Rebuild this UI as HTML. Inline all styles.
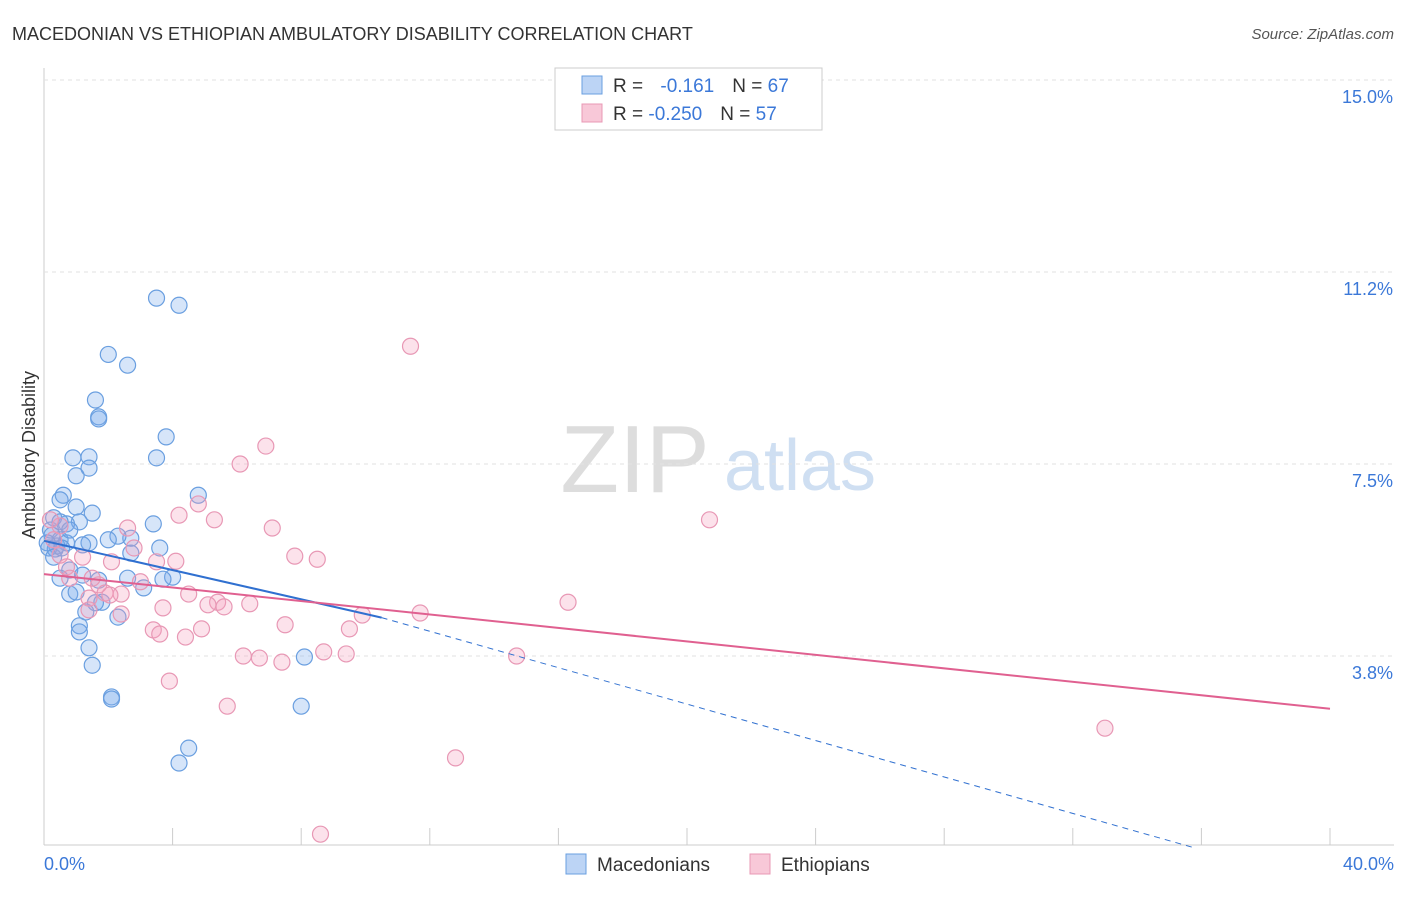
<!DOCTYPE html>
<html><head><meta charset="utf-8"><style>
body{margin:0;background:#fff;font-family:"Liberation Sans",sans-serif;}
svg text{font-family:"Liberation Sans",sans-serif;}
</style></head><body>
<svg id="c" width="1406" height="892" xmlns="http://www.w3.org/2000/svg">
<text x="12" y="40" font-size="18" fill="#333">MACEDONIAN VS ETHIOPIAN AMBULATORY DISABILITY CORRELATION CHART</text>
<text x="1394" y="39" font-size="15" fill="#555" font-style="italic" text-anchor="end">Source: ZipAtlas.com</text>
<text x="635" y="492" font-size="96" fill="#ddd" font-family="Liberation Serif" text-anchor="middle">ZIP</text>
<text x="800" y="490" font-size="72" fill="#cfdff2" text-anchor="middle">atlas</text>
<g id="grid"></g><g id="pts"></g><g id="lines"></g>
<text transform="translate(35,455) rotate(-90)" font-size="18" fill="#333" text-anchor="middle">Ambulatory Disability</text>
<text x="44" y="870" font-size="18" fill="#3b78d8">0.0%</text>
<text x="1394" y="870" font-size="18" fill="#3b78d8" text-anchor="end">40.0%</text>
<g>
<rect x="555" y="68" width="267" height="62" fill="#fff" stroke="#ccc"/>
<rect x="582" y="76" width="20" height="18" fill="#bcd4f5" stroke="#6a9fe0"/>
<rect x="582" y="104" width="20" height="18" fill="#f8c8d8" stroke="#e898b5"/>
<text x="613" y="92" font-size="19" fill="#333">R = <tspan fill="#3b78d8" dx="12">-0.161</tspan><tspan fill="#333" dx="18">N = </tspan><tspan fill="#3b78d8">67</tspan></text>
<text x="613" y="120" font-size="19" fill="#333">R = <tspan fill="#3b78d8">-0.250</tspan><tspan fill="#333" dx="18">N = </tspan><tspan fill="#3b78d8">57</tspan></text>
</g>
<g>
<rect x="566" y="854" width="20" height="20" fill="#bcd4f5" stroke="#6a9fe0"/>
<text x="597" y="871" font-size="19" fill="#333">Macedonians</text>
<rect x="750" y="854" width="20" height="20" fill="#f8c8d8" stroke="#e898b5"/>
<text x="781" y="871" font-size="19" fill="#333">Ethiopians</text>
</g>
</svg>
<script>
const yTicks=[3.75,7.5,11.25,15];
const yTickLabels=["3.8%","7.5%","11.2%","15.0%"];
const xTicks=[0,4,8,12,16,20,24,28,32,36,40];
const macX=[3.5,4.2,2.0,2.6,1.6,1.7,1.7,3.8,0.9,1.4,3.5,1.4,1.0,0.6,0.5,4.8,1.0,1.5,0.3,1.1,3.4,0.7,0.2,0.25,0.5,2.7,2.3,2.0,1.4,1.2,0.7,0.4,0.15,0.35,3.6,2.7,0.3,0.8,1.2,0.5,1.7,2.6,4.0,3.7,3.1,0.8,1.0,1.8,1.6,2.3,1.3,1.1,1.1,1.4,1.5,8.1,2.1,2.1,8.0,4.5,4.2,0.5,0.8,0.1,0.55];
const macY=[10.74,10.6,9.64,9.43,8.75,8.42,8.38,8.03,7.62,7.64,7.62,7.42,7.27,6.89,6.8,6.89,6.66,6.54,6.45,6.37,6.33,6.33,6.21,6.11,6.02,6.05,6.09,6.02,5.96,5.92,5.96,5.9,5.86,5.84,5.86,5.76,5.68,5.43,5.33,5.27,5.23,5.27,5.29,5.25,5.08,4.96,5.0,4.8,4.79,4.51,4.61,4.34,4.22,3.91,3.57,3.73,2.95,2.91,2.77,1.95,1.66,6.37,6.21,5.96,5.86];
const ethX=[11.4,6.9,6.1,4.8,4.2,5.3,20.7,7.1,2.6,0.5,0.3,2.8,7.8,8.5,4.1,3.5,2.1,1.2,0.7,0.8,1.7,3.0,4.5,2.4,1.9,1.4,5.4,5.1,5.6,6.4,3.7,16.3,11.7,9.9,2.4,1.4,3.4,4.9,7.5,9.5,3.6,4.4,6.2,6.7,7.4,8.7,9.4,14.7,3.9,5.7,33.0,12.8,8.6,0.2,0.5,1.5,2.05];
const ethY=[9.8,7.85,7.5,6.72,6.5,6.41,6.41,6.25,6.25,6.29,6.02,5.86,5.7,5.64,5.6,5.59,5.59,5.68,5.49,5.27,5.14,5.2,4.96,4.96,4.98,4.88,4.8,4.75,4.71,4.77,4.69,4.8,4.59,4.55,4.57,4.65,4.26,4.28,4.36,4.28,4.18,4.12,3.75,3.71,3.63,3.83,3.79,3.75,3.26,2.77,2.34,1.76,0.27,6.41,5.72,5.27,4.94];
const macTrend=[[0,6.0],[10.5,4.5],[35.8,0]];
const ethTrend=[[0,5.35],[40,2.72]];
const X=v=>44+v*32.15, Y=v=>848-v*51.2;
const NS="http://www.w3.org/2000/svg";
function mk(p,t,a){const e=document.createElementNS(NS,t);for(const k in a)e.setAttribute(k,a[k]);p.appendChild(e);return e;}
const g=document.getElementById('grid');
let ax=mk(g,'line',{x1:44,y1:68,x2:44,y2:845,stroke:'#ccc'});

let bx=mk(g,'line',{x1:44,y1:845,x2:1394,y2:845,stroke:'#ccc'});

yTicks.forEach((v,i)=>{const l=mk(g,'line',{x1:44,y1:Y(v),x2:1394,y2:Y(v),stroke:'#e2e2e2','stroke-dasharray':'4,4'});

const t=mk(g,'text',{x:1393,y:Y(v)+23,'font-size':18,fill:'#3b78d8','text-anchor':'end'});t.textContent=yTickLabels[i];
});
xTicks.forEach(v=>{const l=mk(g,'line',{x1:X(v),y1:828,x2:X(v),y2:845,stroke:'#ccc'});
});
const p=document.getElementById('pts');
macX.forEach((v,i)=>{const c=mk(p,'circle',{cx:X(v),cy:Y(macY[i]),r:8,fill:'rgba(120,170,235,0.3)',stroke:'#6a9fe0','stroke-width':1.2});
});
ethX.forEach((v,i)=>{const c=mk(p,'circle',{cx:X(v),cy:Y(ethY[i]),r:8,fill:'rgba(245,160,190,0.3)',stroke:'#e898b5','stroke-width':1.2});
});
const L=document.getElementById('lines');
let a=mk(L,'line',{x1:X(macTrend[0][0]),y1:Y(macTrend[0][1]),x2:X(macTrend[1][0]),y2:Y(macTrend[1][1]),stroke:'#3070d0','stroke-width':2});

let b=mk(L,'line',{x1:X(macTrend[1][0]),y1:Y(macTrend[1][1]),x2:X(macTrend[2][0]),y2:Y(macTrend[2][1]),stroke:'#3070d0','stroke-width':1,'stroke-dasharray':'6,5'});

let c2=mk(L,'line',{x1:X(ethTrend[0][0]),y1:Y(ethTrend[0][1]),x2:X(ethTrend[1][0]),y2:Y(ethTrend[1][1]),stroke:'#e06090','stroke-width':2});

</script>
</body></html>
